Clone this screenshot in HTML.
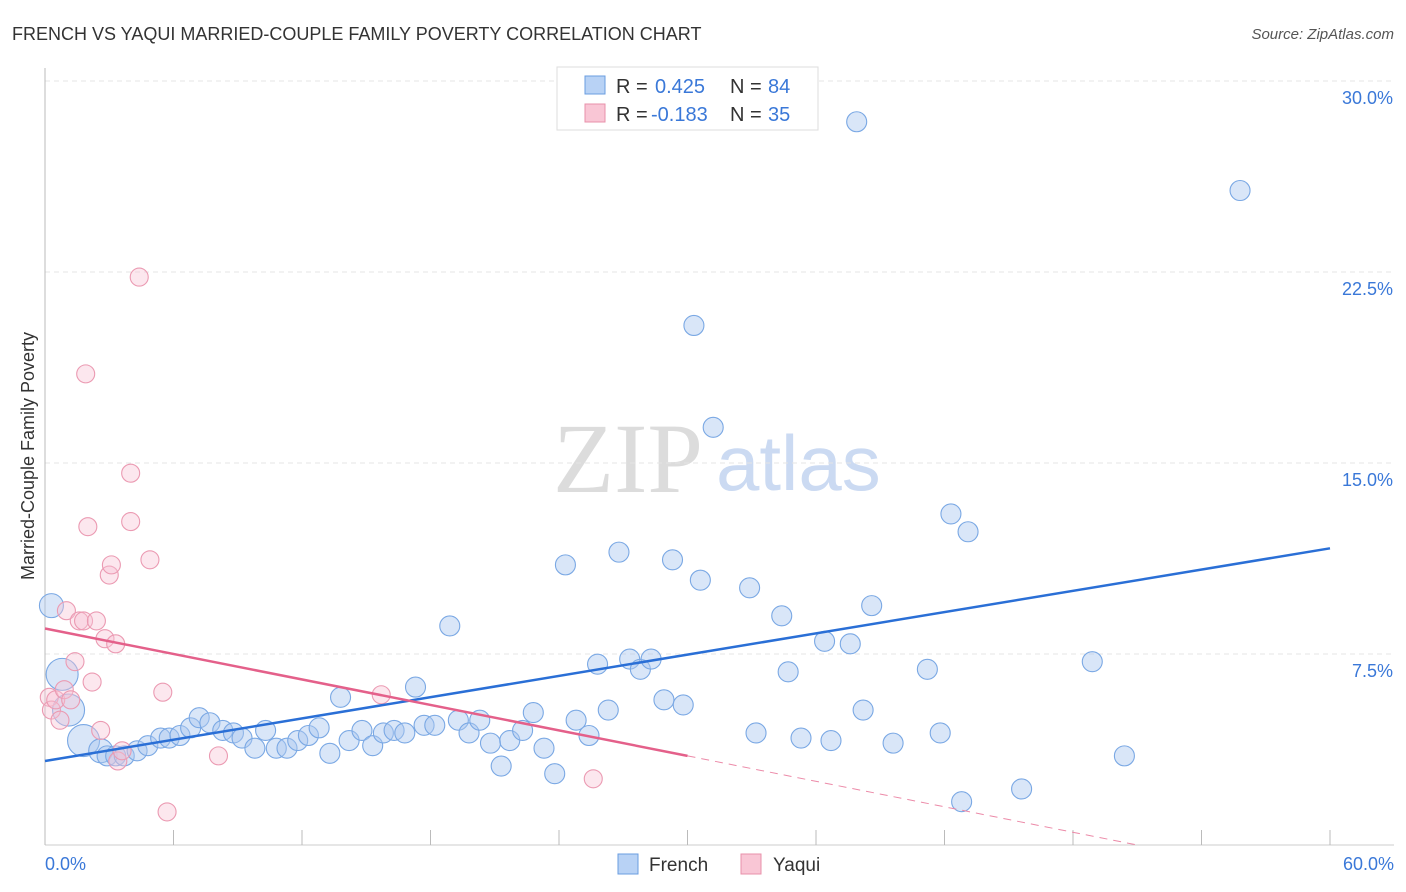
<!DOCTYPE html>
<html><head><meta charset="utf-8"><style>
body{margin:0;background:#fff;font-family:"Liberation Sans",sans-serif;}
#wrap{position:relative;width:1406px;height:892px;overflow:hidden;}
</style></head><body>
<div id="wrap">
<svg id="chart" width="1406" height="892" xmlns="http://www.w3.org/2000/svg">
<text x="12" y="40" font-size="18" fill="#333">FRENCH VS YAQUI MARRIED-COUPLE FAMILY POVERTY CORRELATION CHART</text>
<text x="1394" y="39" font-size="15" fill="#555" font-style="italic" text-anchor="end">Source: ZipAtlas.com</text>
<text x="553" y="492" font-size="100" fill="#dcdcdc" font-family="Liberation Serif,serif">ZIP</text>
<text x="716" y="490" font-size="78" fill="#cbdaf2">atlas</text>
<text transform="translate(34,456) rotate(-90)" font-size="18" fill="#333" text-anchor="middle">Married-Couple Family Poverty</text>
<g id="grid"></g><g id="axes"></g><g id="pts"></g><g id="lines"></g>
<g>
<rect x="557" y="67" width="261" height="63" fill="#fff" stroke="#ddd"/>
<rect x="585" y="76" width="20" height="18" fill="#b8d2f5" stroke="#6a9de0"/>
<text x="616" y="93" font-size="20" fill="#333">R = </text><text x="655" y="93" font-size="20" fill="#3a78d8">0.425</text>
<text x="730" y="93" font-size="20" fill="#333">N = </text><text x="768" y="93" font-size="20" fill="#3a78d8">84</text>
<rect x="585" y="104" width="20" height="18" fill="#f9c6d5" stroke="#e890aa"/>
<text x="616" y="121" font-size="20" fill="#333">R = </text><text x="651" y="121" font-size="20" fill="#3a78d8">-0.183</text>
<text x="730" y="121" font-size="20" fill="#333">N = </text><text x="768" y="121" font-size="20" fill="#3a78d8">35</text>
</g>
<g>
<rect x="618" y="854" width="20" height="20" fill="#b8d2f5" stroke="#6a9de0"/>
<text x="649" y="871" font-size="19" fill="#333">French</text>
<rect x="741" y="854" width="20" height="20" fill="#f9c6d5" stroke="#e890aa"/>
<text x="773" y="871" font-size="19" fill="#333">Yaqui</text>
</g>
</svg>
</div>
<script>
const yTicks=[7.5,15.0,22.5,30.0];
const yTickLabels=["7.5%","15.0%","22.5%","30.0%"];
const xTickCount=10;
const xLabels=["0.0%","60.0%"];
const frenchX=[0.3,0.8,1.1,1.8,2.6,2.9,3.3,3.7,4.3,4.8,5.4,5.8,6.3,6.8,7.2,7.7,8.3,8.8,9.2,9.8,10.3,10.8,11.3,11.8,12.3,12.8,13.3,13.8,14.2,14.8,15.3,15.8,16.3,16.8,17.3,17.7,18.2,18.9,19.3,19.8,20.3,20.8,21.3,21.7,22.3,22.8,23.3,23.8,24.3,24.8,25.4,25.8,26.3,26.8,27.3,27.8,28.3,28.9,29.3,29.8,30.3,30.6,31.2,32.9,33.2,34.4,34.7,35.3,36.4,36.7,37.6,37.9,38.2,38.6,39.6,41.2,41.8,42.3,42.8,43.1,45.6,48.9,50.4,55.8];
const frenchY=[9.4,6.7,5.3,4.1,3.7,3.5,3.5,3.5,3.7,3.9,4.2,4.2,4.3,4.6,5.0,4.8,4.5,4.4,4.2,3.8,4.5,3.8,3.8,4.1,4.3,4.6,3.6,5.8,4.1,4.5,3.9,4.4,4.5,4.4,6.2,4.7,4.7,8.6,4.9,4.4,4.9,4.0,3.1,4.1,4.5,5.2,3.8,2.8,11.0,4.9,4.3,7.1,5.3,11.5,7.3,6.9,7.3,5.7,11.2,5.5,20.4,10.4,16.4,10.1,4.4,9.0,6.8,4.2,8.0,4.1,7.9,28.4,5.3,9.4,4.0,6.9,4.4,13.0,1.7,12.3,2.2,7.2,3.5,25.7];
const frenchSize=[12,16,16,16,12,10,10,10,10,10,10,10,10,10,10,10,10,10,10,10,10,10,10,10,10,10,10,10,10,10,10,10,10,10,10,10,10,10,10,10,10,10,10,10,10,10,10,10,10,10,10,10,10,10,10,10,10,10,10,10,10,10,10,10,10,10,10,10,10,10,10,10,10,10,10,10,10,10,10,10,10,10,10,10];
const yaquiX=[0.2,0.3,0.5,0.7,0.9,1.0,1.2,1.4,1.6,1.8,1.9,2.0,2.2,2.4,2.6,2.8,3.0,3.1,3.3,3.4,3.6,4.0,4.0,4.4,4.9,5.5,5.7,8.1,15.7,25.6];
const yaquiY=[5.8,5.3,5.7,4.9,6.1,9.2,5.7,7.2,8.8,8.8,18.5,12.5,6.4,8.8,4.5,8.1,10.6,11.0,7.9,3.3,3.7,12.7,14.6,22.3,11.2,6.0,1.3,3.5,5.9,2.6];
const frenchTrend=[3.3,11.65];
const yaquiTrend=[8.5,-5/30];
const xs=v=>45+v/60*1285, ys=v=>845-v/7.5*191;
const NS="http://www.w3.org/2000/svg";
function mk(tag,attrs,parent){const e=document.createElementNS(NS,tag);for(const k in attrs)e.setAttribute(k,attrs[k]);document.getElementById(parent).appendChild(e);return e;}
yTicks.forEach((t,i)=>{
 const l=mk('line',{x1:45,x2:1394,y1:ys(t),y2:ys(t),stroke:'#e4e4e4','stroke-dasharray':'5,4'},'grid');
 
 
 const tx=mk('text',{x:1393,y:ys(t)+23,'font-size':18,fill:'#3a78d8','text-anchor':'end'},'grid');
 tx.textContent=yTickLabels[i];
 
 
});
const ax=mk('line',{x1:45,x2:45,y1:68,y2:845,stroke:'#bbb'},'axes');


const bx=mk('line',{x1:45,x2:1394,y1:845,y2:845,stroke:'#ccc'},'axes');


for(let i=0;i<=xTickCount;i++){
 const x=xs(i*60/xTickCount);
 const t=mk('line',{x1:x,x2:x,y1:830,y2:845,stroke:'#bbb'},'axes');
 
 
}
const xl0=mk('text',{x:45,y:870,'font-size':18,fill:'#3a78d8'},'axes');xl0.textContent=xLabels[0];


const xl1=mk('text',{x:1394,y:870,'font-size':18,fill:'#3a78d8','text-anchor':'end'},'axes');xl1.textContent=xLabels[1];


frenchX.forEach((v,i)=>{
 const c=mk('circle',{cx:xs(v),cy:ys(frenchY[i]),r:frenchSize[i],fill:'rgba(170,200,240,0.45)',stroke:'#7aa8e4','stroke-width':1.1},'pts');
 
 
});
yaquiX.forEach((v,i)=>{
 const c=mk('circle',{cx:xs(v),cy:ys(yaquiY[i]),r:9,fill:'rgba(248,195,212,0.4)',stroke:'#eb9ab2','stroke-width':1.1},'pts');
 
 
});
const fl=mk('line',{x1:xs(0),y1:ys(frenchTrend[0]),x2:xs(60),y2:ys(frenchTrend[1]),stroke:'#2a6fd6','stroke-width':2.5},'lines');


const yEnd=-yaquiTrend[0]/yaquiTrend[1];
const yl=mk('line',{x1:xs(0),y1:ys(yaquiTrend[0]),x2:xs(30),y2:ys(yaquiTrend[0]+30*yaquiTrend[1]),stroke:'#e4608a','stroke-width':2.5},'lines');


const yd=mk('line',{x1:xs(30),y1:ys(yaquiTrend[0]+30*yaquiTrend[1]),x2:xs(yEnd),y2:ys(0),stroke:'#ec8aa8','stroke-width':1,'stroke-dasharray':'8,6'},'lines');


</script>
</body></html>
